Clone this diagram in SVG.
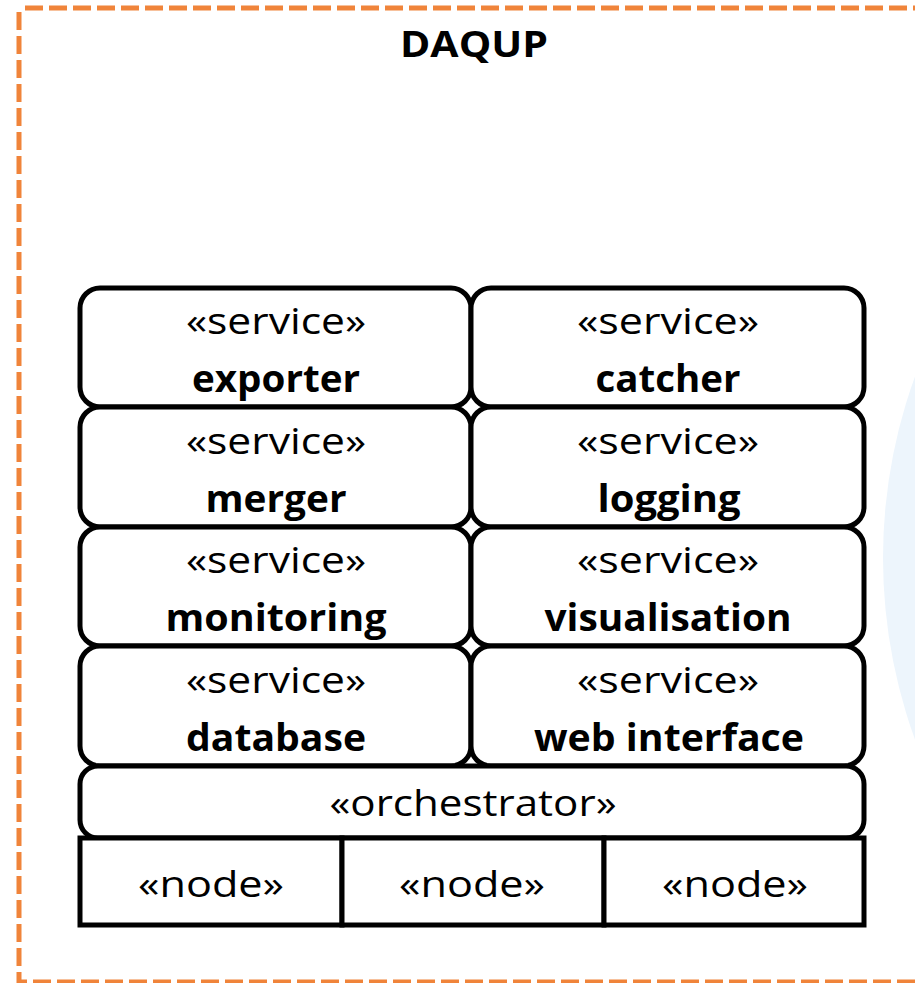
<svg xmlns="http://www.w3.org/2000/svg" width="915" height="983" viewBox="0 0 915 983">
<style>
.box{fill:#fff;stroke:#000;stroke-width:5}
.st{font-family:"Open Sans","Noto Sans","Liberation Sans",sans-serif;font-size:37px;fill:#000;text-anchor:middle}
.nm{font-family:"Open Sans","Noto Sans","Liberation Sans",sans-serif;font-size:37px;font-weight:bold;fill:#000;text-anchor:middle}
</style>
<rect width="915" height="983" fill="#fff"/>
<circle cx="1414" cy="558" r="531" fill="#EDF5FC"/>
<rect id="frame" x="19" y="8" width="960" height="974" fill="none" stroke="#F0843A" stroke-width="5" stroke-dasharray="18 6" stroke-dashoffset="-6"/>
<text x="474" y="57" font-family="'Open Sans','Noto Sans','Liberation Sans',sans-serif" font-size="35" font-weight="bold" text-anchor="middle" textLength="148" lengthAdjust="spacingAndGlyphs">DAQUP</text>
<g id="exporter"><rect class="box" x="80" y="288" width="391" height="119" rx="20"/><text class="st" x="276" y="334" textLength="180" lengthAdjust="spacingAndGlyphs">«service»</text><text class="nm" x="276" y="392" textLength="168" lengthAdjust="spacingAndGlyphs">exporter</text></g>
<g id="catcher"><rect class="box" x="471" y="288" width="393" height="119" rx="20"/><text class="st" x="668" y="334" textLength="182" lengthAdjust="spacingAndGlyphs">«service»</text><text class="nm" x="668" y="392" textLength="145" lengthAdjust="spacingAndGlyphs">catcher</text></g>
<g id="merger"><rect class="box" x="80" y="407" width="391" height="120" rx="20"/><text class="st" x="276" y="454" textLength="180" lengthAdjust="spacingAndGlyphs">«service»</text><text class="nm" x="276" y="512" textLength="141" lengthAdjust="spacingAndGlyphs">merger</text></g>
<g id="logging"><rect class="box" x="471" y="407" width="393" height="120" rx="20"/><text class="st" x="668" y="454" textLength="182" lengthAdjust="spacingAndGlyphs">«service»</text><text class="nm" x="669" y="512" textLength="143" lengthAdjust="spacingAndGlyphs">logging</text></g>
<g id="monitoring"><rect class="box" x="80" y="527" width="391" height="119" rx="20"/><text class="st" x="276" y="573" textLength="180" lengthAdjust="spacingAndGlyphs">«service»</text><text class="nm" x="276" y="631" textLength="221" lengthAdjust="spacingAndGlyphs">monitoring</text></g>
<g id="visualisation"><rect class="box" x="471" y="527" width="393" height="119" rx="20"/><text class="st" x="668" y="573" textLength="182" lengthAdjust="spacingAndGlyphs">«service»</text><text class="nm" x="668" y="631" textLength="247" lengthAdjust="spacingAndGlyphs">visualisation</text></g>
<g id="database"><rect class="box" x="80" y="646" width="391" height="120" rx="20"/><text class="st" x="276" y="693" textLength="180" lengthAdjust="spacingAndGlyphs">«service»</text><text class="nm" x="276" y="751" textLength="180" lengthAdjust="spacingAndGlyphs">database</text></g>
<g id="web-interface"><rect class="box" x="471" y="646" width="393" height="120" rx="20"/><text class="st" x="668" y="693" textLength="182" lengthAdjust="spacingAndGlyphs">«service»</text><text class="nm" x="669" y="751" textLength="270" lengthAdjust="spacingAndGlyphs">web interface</text></g>
<g id="orchestrator"><rect class="box" x="80" y="766" width="784" height="72" rx="18"/><text class="st" x="473" y="816" textLength="287" lengthAdjust="spacingAndGlyphs">«orchestrator»</text></g>
<g id="node1"><rect class="box" x="80" y="838" width="262" height="87"/><text class="st" x="211" y="897" textLength="146" lengthAdjust="spacingAndGlyphs">«node»</text></g>
<g id="node2"><rect class="box" x="342" y="838" width="262" height="87"/><text class="st" x="472" y="897" textLength="146" lengthAdjust="spacingAndGlyphs">«node»</text></g>
<g id="node3"><rect class="box" x="604" y="838" width="260" height="87"/><text class="st" x="735" y="897" textLength="146" lengthAdjust="spacingAndGlyphs">«node»</text></g>
<g id="connectors"></g>
</svg>
